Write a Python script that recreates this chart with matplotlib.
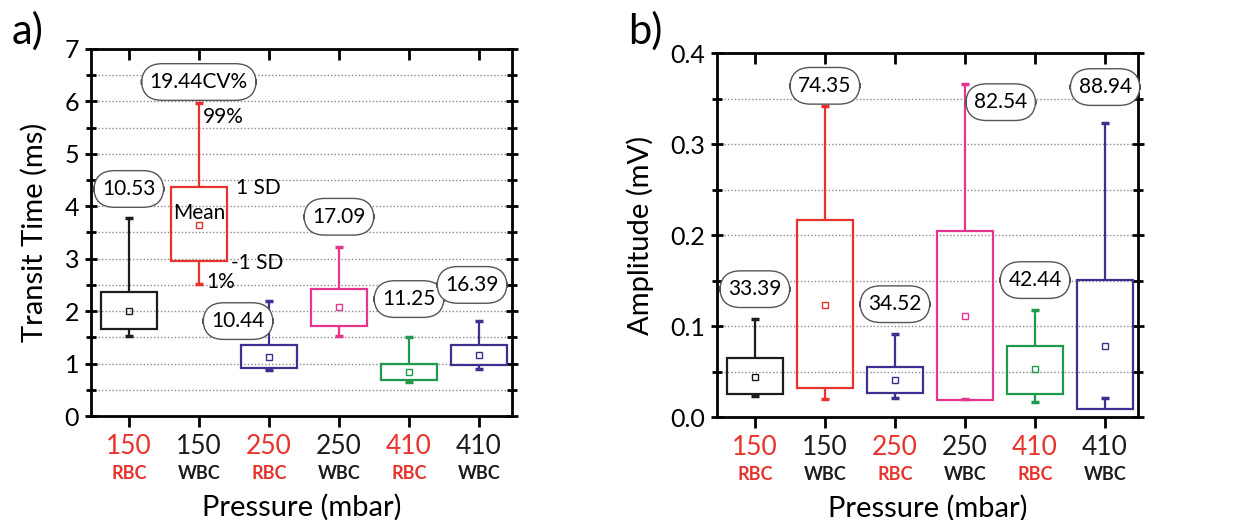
import numpy as np
import matplotlib.pyplot as plt
from matplotlib.ticker import MultipleLocator
import matplotlib.transforms as mtransforms

plt.rcParams['font.family'] = ['Lato', 'DejaVu Sans']

# categories
pressures = ['150', '150', '250', '250', '410', '410']
cells = ['RBC', 'WBC', 'RBC', 'WBC', 'RBC', 'WBC']
box_colors = ['#1c1c1c', '#e8322c', '#3b3190', '#e4368e', '#1f9a4b', '#3b3190']

# a) transit time (ms)
tt_box_lo = [1.65, 2.95, 0.91, 1.72, 0.69, 0.97]
tt_box_hi = [2.36, 4.37, 1.35, 2.43, 0.99, 1.35]
tt_mean = [2.01, 3.64, 1.12, 2.07, 0.83, 1.16]
tt_wlo = [1.53, 2.52, 0.87, 1.53, 0.65, 0.89]
tt_whi = [3.78, 5.97, 2.19, 3.23, 1.51, 1.81]
tt_cv = ['10.53', '19.44CV%', '10.44', '17.09', '11.25', '16.39']
tt_cv_x = [1, 2, 2.56, 4, 5, 5.9]
tt_cv_y = [4.33, 6.37, 1.81, 3.80, 2.23, 2.50]

# b) amplitude (mV)
am_box_lo = [0.025, 0.0315, 0.026, 0.0187, 0.0253, 0.0085]
am_box_hi = [0.0645, 0.2165, 0.0553, 0.2048, 0.0784, 0.1505]
am_mean = [0.0443, 0.123, 0.0407, 0.111, 0.0524, 0.0784]
am_wlo = [0.0234, 0.0198, 0.0205, 0.0195, 0.0161, 0.0205]
am_whi = [0.108, 0.342, 0.091, 0.366, 0.1176, 0.3227]
am_cv = ['33.39', '74.35', '34.52', '82.54', '42.44', '88.94']
am_cv_x = [1, 2, 3, 4.51, 5, 6]
am_cv_y = [0.1405, 0.364, 0.124, 0.346, 0.1505, 0.3626]

fig = plt.figure(figsize=(12.39, 5.2), dpi=100)
ax1 = fig.add_axes([0.0734, 0.2, 0.3398, 0.7058])
ax2 = fig.add_axes([0.5787, 0.198, 0.3398, 0.700])

pos = np.arange(1, 7)
bw = 0.8


def draw_boxes(ax, lo, hi, mean, wlo, whi):
    for i, p in enumerate(pos):
        c = box_colors[i]
        ax.add_patch(plt.Rectangle((p - bw / 2, lo[i]), bw, hi[i] - lo[i],
                                   fill=False, edgecolor=c, lw=1.6, zorder=3))
        ax.vlines(p, hi[i], whi[i], color=c, lw=1.6, zorder=3)
        ax.vlines(p, min(lo[i], wlo[i]), max(lo[i], wlo[i]), color=c, lw=1.6, zorder=3)
        ax.hlines([wlo[i], whi[i]], p - 0.06, p + 0.06, color=c, lw=2.5, zorder=3)
        ax.plot(p, mean[i], marker='s', ms=4.5, mfc='none', mec=c, mew=1.0, zorder=4)


def style_axes(ax, ylim, major, minor, fmt):
    ax.set_xlim(0.46, 6.47)
    ax.set_ylim(*ylim)
    ax.yaxis.set_major_locator(MultipleLocator(major))
    ax.yaxis.set_minor_locator(MultipleLocator(minor))
    ax.yaxis.set_major_formatter(fmt)
    ax.grid(True, which='both', axis='y', color='#8a8a8a', ls=(0, (1, 1.5)), lw=1.0, zorder=0)
    for s in ax.spines.values():
        s.set_linewidth(2.0)
    ax.tick_params(axis='y', which='both', direction='inout', left=True, right=True,
                   labelsize=18, width=2.0, pad=4)
    ax.tick_params(axis='y', which='major', length=9)
    ax.tick_params(axis='y', which='minor', length=7)
    ax.set_xticks(pos)
    ax.set_xticklabels(pressures)
    ax.tick_params(axis='x', direction='out', length=8, width=2.0,
                   labelsize=19, pad=5)
    for t, cell in zip(ax.get_xticklabels(), cells):
        t.set_color('#e8322c' if cell == 'RBC' else '#1c1c1c')
    # top ticks inward
    sec = ax.secondary_xaxis('top')
    sec.set_xticks(pos)
    sec.set_xticklabels([])
    sec.tick_params(direction='in', length=8, width=2.0)
    sec.spines['top'].set_visible(False)
    trans = mtransforms.blended_transform_factory(ax.transData, ax.transAxes)
    for p, cell in zip(pos, cells):
        ax.text(p, -0.158, cell, transform=trans, ha='center', va='center',
                fontsize=13, fontweight='bold',
                color='#e8322c' if cell == 'RBC' else '#1c1c1c')
    ax.set_xlabel('Pressure (mbar)', fontsize=21, va='center')
    ax.xaxis.set_label_coords(0.5, -0.25)


def cv_labels(ax, xs, ys, texts):
    for x, y, t in zip(xs, ys, texts):
        ax.text(x, y, t, ha='center', va='center', fontsize=15, zorder=5,
                bbox=dict(boxstyle='round,pad=0.4,rounding_size=1.0', fc='white',
                          ec='#555555', lw=1.0))


draw_boxes(ax1, tt_box_lo, tt_box_hi, tt_mean, tt_wlo, tt_whi)
style_axes(ax1, (0, 7), 1, 0.5, lambda v, _: f'{v:.0f}')
cv_labels(ax1, tt_cv_x, tt_cv_y, tt_cv)
ax1.set_ylabel('Transit Time (ms)', fontsize=21, labelpad=12)

# legend-like annotations on the 150 WBC box
ax1.text(2.06, 5.70, '99%', fontsize=15, ha='left', va='center')
ax1.text(2.53, 4.35, '1 SD', fontsize=15, ha='left', va='center')
ax1.text(2.0, 3.88, 'Mean', fontsize=15, ha='center', va='center')
ax1.text(2.46, 2.92, '-1 SD', fontsize=15, ha='left', va='center')
ax1.text(2.10, 2.56, '1%', fontsize=15, ha='left', va='center')

draw_boxes(ax2, am_box_lo, am_box_hi, am_mean, am_wlo, am_whi)
style_axes(ax2, (0, 0.4), 0.1, 0.05, lambda v, _: f'{v:.1f}')
cv_labels(ax2, am_cv_x, am_cv_y, am_cv)
ax2.set_ylabel('Amplitude (mV)', fontsize=21, labelpad=12)

fig.text(0.022, 0.94, 'a)', fontsize=30, ha='center', va='center')
fig.text(0.521, 0.94, 'b)', fontsize=30, ha='center', va='center')

fig.savefig('out.png', dpi=100)
